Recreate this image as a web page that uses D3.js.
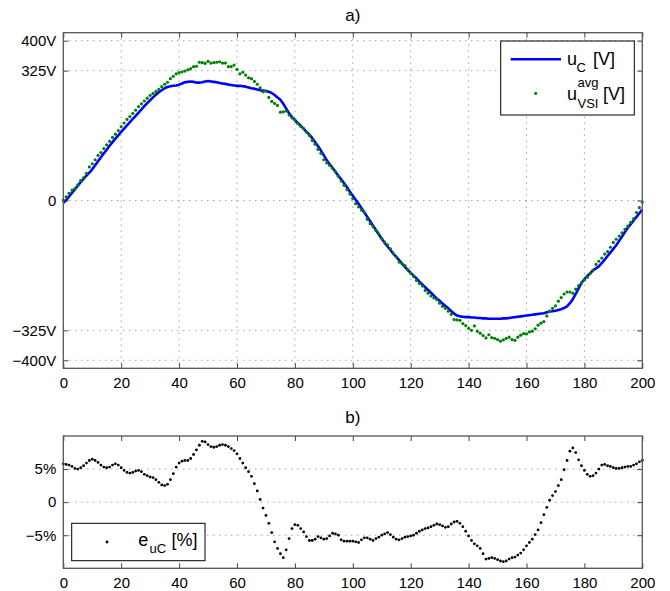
<!DOCTYPE html>
<html>
<head>
<meta charset="utf-8">
<script src="https://d3js.org/d3.v7.min.js"></script>
<style>
  body { margin: 0; background: #fff; }
  svg { font-family: "Liberation Sans", Arial, Helvetica, sans-serif; }
  .axis text { font-size: 15px; fill: #000; }
  .axis line { stroke: #444; }
  .grid line { stroke: #777; stroke-dasharray: 1,5; }
</style>
</head>
<body>
<div id="chart"></div>
<script>
// capacitor voltage u_C [V], one value per sample 0..200
var uC = [
  -6, 1, 10, 19, 28, 37, 46, 54, 62, 70,
  78, 88, 98, 108, 118, 127, 137, 146, 155, 163,
  172, 180, 188, 196, 204, 212, 220, 228, 236, 244,
  251, 258, 265, 271, 276, 281, 284, 286, 287, 288,
  290, 293, 296, 297, 298, 297, 295, 295, 296, 298,
  299, 298, 297, 296, 294, 293, 292, 290, 289, 288,
  287, 287, 286, 285, 283, 281, 280, 278, 276, 275,
  274, 272, 269, 264, 258, 252, 242, 230, 218, 209,
  201, 194, 187, 180, 172, 165, 156, 146, 136, 125,
  113, 101, 91, 82, 72, 62, 53, 43, 33, 22,
  12, 2, -8, -19, -30, -41, -52, -63, -74, -85,
  -96, -106, -115, -124, -133, -141, -149, -158, -166, -174,
  -181, -188, -195, -203, -210, -217, -224, -231, -238, -245,
  -251, -258, -264, -270, -277, -283, -288, -290, -291, -292,
  -292, -293, -293, -294, -294, -295, -295, -296, -296, -296,
  -296, -296, -295, -295, -294, -293, -292, -291, -290, -289,
  -288, -287, -286, -285, -284, -283, -282, -280, -278, -277,
  -276, -274, -272, -269, -265, -257, -247, -234, -220, -206,
  -197, -189, -182, -175, -170, -165, -157, -148, -139, -130,
  -121, -112, -101, -90, -79, -68, -59, -50, -41, -32,
  -23
];

// averaged inverter voltage u_VSI^avg [V]
var uVSI = [
  1, 9, 18, 26, 30, 39, 50, 57, 68, 84,
  92, 102, 113, 120, 130, 139, 148, 158, 166, 175,
  185, 194, 203, 210, 218, 226, 235, 242, 249, 256,
  263, 268, 273, 278, 285, 291, 296, 305, 311, 317,
  320, 322, 324, 327, 330, 335, 336, 346, 345, 343,
  348, 344, 345, 346, 347, 344, 344, 335, 335, 339,
  328, 317, 321, 314, 307, 305, 298, 291, 282, 272,
  274, 258, 248, 243, 238, 221, 222, 224, 214, 207,
  202, 193, 186, 180, 171, 163, 150, 141, 128, 118,
  102, 94, 88, 81, 72, 61, 49, 38, 27, 16,
  5, -8, -16, -24, -30, -47, -58, -65, -75, -84,
  -95, -104, -111, -121, -133, -141, -154, -158, -163, -173,
  -182, -190, -200, -208, -214, -225, -232, -239, -244, -248,
  -257, -265, -270, -277, -285, -298, -299, -300, -308, -313,
  -320, -325, -314, -327, -332, -338, -344, -336, -343, -345,
  -348, -352, -349, -345, -342, -348, -350, -342, -337, -333,
  -334, -329, -327, -321, -312, -307, -303, -289, -277, -270,
  -264, -252, -243, -234, -229, -229, -232, -222, -213, -206,
  -199, -192, -183, -174, -160, -152, -144, -134, -128, -117,
  -105, -97, -89, -81, -72, -64, -55, -45, -30, -18,
  -4
];

// error e_uC [%]
var euC = [
  5.8, 5.7, 5.6, 5.4, 5.1, 5.0, 5.2, 5.5, 5.9, 6.3,
  6.5, 6.3, 6.0, 5.6, 5.3, 5.2, 5.3, 5.6, 5.8, 5.6,
  5.2, 4.8, 4.5, 4.4, 4.5, 4.7, 4.8, 4.6, 4.2, 4.0,
  3.8, 3.7, 3.4, 3.0, 2.6, 2.5, 2.7, 3.4, 4.3, 5.3,
  5.9, 6.2, 6.3, 6.3, 6.6, 7.2, 7.9, 8.6, 9.2, 9.1,
  8.7, 8.4, 8.3, 8.4, 8.6, 8.7, 8.6, 8.4, 8.1, 7.8,
  7.3, 6.6, 5.9, 5.2, 4.6, 3.9, 2.8, 1.7, 0.4, -0.9,
  -2.0, -3.2, -4.6, -6.0, -7.0, -7.8, -8.4, -7.2, -5.5, -4.0,
  -3.4, -3.5, -4.0, -4.5, -5.2, -5.8, -5.8, -5.6, -5.2, -5.4,
  -5.6, -5.5, -5.1, -4.7, -4.8, -5.0, -5.7, -5.9, -5.9, -5.9,
  -5.9, -6.0, -6.1, -5.7, -5.4, -5.4, -5.6, -5.8, -5.5, -5.3,
  -5.0, -4.8, -4.6, -4.9, -5.3, -5.6, -5.7, -5.5, -5.3, -5.2,
  -5.1, -5.0, -4.7, -4.4, -4.2, -4.0, -3.9, -3.7, -3.5, -3.3,
  -3.4, -3.6, -3.8, -3.7, -3.3, -3.0, -2.9, -3.2, -3.7, -4.4,
  -5.1, -5.8, -6.3, -6.6, -7.0, -7.8, -8.6, -8.5, -8.4, -8.5,
  -8.7, -8.9, -9.0, -8.9, -8.6, -8.4, -8.3, -8.0, -7.7, -7.2,
  -6.6, -6.1, -5.6, -4.9, -4.2, -3.1, -1.9, -0.8, 0.3, 1.0,
  1.6, 2.5, 3.4, 4.9, 6.3, 7.7, 8.2, 7.5, 6.4, 5.5,
  4.8, 4.2, 3.9, 4.0, 4.4, 5.0, 5.6, 5.7, 5.5, 5.4,
  5.2, 5.1, 5.1, 5.2, 5.3, 5.4, 5.4, 5.6, 5.8, 6.1,
  6.3
];

var xTicks = [0, 20, 40, 60, 80, 100, 120, 140, 160, 180, 200];
var vTicks = [-400, -325, 0, 325, 400];
var vTickLabels = ["\u2212400V", "\u2212325V", "0", "325V", "400V"];
var eTicks = [-5, 0, 5];
var eTickLabels = ["\u22125%", "0", "5%"];

var W = 670, H = 591;
var svg = d3.select("#chart").append("svg")
  .attr("width", W).attr("height", H);

var x = d3.scaleLinear().domain([0, 200]).range([63.3, 642.3]);
var yA = d3.scaleLinear().domain([-420, 420]).range([368.3, 32.7]);
var yB = d3.scaleLinear().domain([-10, 10]).range([568.3, 436]);

function frame(y, yt, ylabels, vgrid) {
  var top = y.range()[1], bot = y.range()[0];
  var g = svg.append("g");

  // grid
  var grid = g.append("g").attr("class", "grid");
  if (vgrid) {
    grid.selectAll(".vg").data(xTicks.slice(1, -1)).enter().append("line")
      .attr("x1", d => x(d)).attr("x2", d => x(d))
      .attr("y1", top).attr("y2", bot);
  }
  grid.selectAll(".hg").data(yt).enter().append("line")
    .attr("x1", x(0)).attr("x2", x(200))
    .attr("y1", d => y(d)).attr("y2", d => y(d));

  // axes with inward ticks
  g.append("g").attr("class", "axis").attr("transform", "translate(0," + bot + ")")
    .call(d3.axisBottom(x).tickValues(xTicks).tickSizeInner(-5).tickSizeOuter(0).tickPadding(9));
  g.append("g").attr("class", "axis").attr("transform", "translate(0," + top + ")")
    .call(d3.axisTop(x).tickValues(xTicks).tickSizeInner(-5).tickSizeOuter(0).tickFormat(""));
  g.append("g").attr("class", "axis").attr("transform", "translate(" + x(0) + ",0)")
    .call(d3.axisLeft(y).tickValues(yt).tickSizeInner(-5).tickSizeOuter(0).tickPadding(7)
      .tickFormat((d, i) => ylabels[i]));
  g.append("g").attr("class", "axis").attr("transform", "translate(" + x(200) + ",0)")
    .call(d3.axisRight(y).tickValues(yt).tickSizeInner(-5).tickSizeOuter(0).tickFormat(""));
  g.selectAll(".axis .domain").remove();

  return g;
}

function box(y) {
  svg.append("rect")
    .attr("x", x(0)).attr("y", y.range()[1])
    .attr("width", x(200) - x(0)).attr("height", y.range()[0] - y.range()[1])
    .attr("fill", "none").attr("stroke", "#555").attr("stroke-width", 1.3);
}

// ---- plot a)
frame(yA, vTicks, vTickLabels, true);

svg.append("path")
  .datum(uC)
  .attr("fill", "none").attr("stroke", "#0000ff").attr("stroke-width", 2.6)
  .attr("stroke-linejoin", "round")
  .attr("d", d3.line().x((d, i) => x(i)).y(d => yA(d)));

svg.append("g").selectAll("circle").data(uVSI).enter().append("circle")
  .attr("cx", (d, i) => x(i)).attr("cy", d => yA(d)).attr("r", 1.6)
  .attr("fill", "#008000");

box(yA);

svg.append("text").attr("x", 352.8).attr("y", 21).attr("text-anchor", "middle")
  .attr("font-size", 17).text("a)");

// legend a)
var la = svg.append("g");
la.append("rect").attr("x", 500.7).attr("y", 41).attr("width", 133.6).attr("height", 74)
  .attr("fill", "#fff").attr("stroke", "#000").attr("stroke-width", 1);
la.append("line").attr("x1", 510.7).attr("x2", 561).attr("y1", 59.3).attr("y2", 59.3)
  .attr("stroke", "#0000ff").attr("stroke-width", 2.6);
la.append("text").attr("x", 567).attr("y", 64.5).attr("font-size", 18).text("u");
la.append("text").attr("x", 576.5).attr("y", 71.5).attr("font-size", 13).text("C");
la.append("text").attr("x", 593).attr("y", 64.5).attr("font-size", 18).text("[V]");
la.append("circle").attr("cx", 535.7).attr("cy", 93.3).attr("r", 1.6).attr("fill", "#008000");
la.append("text").attr("x", 567).attr("y", 99.5).attr("font-size", 18).text("u");
la.append("text").attr("x", 577.5).attr("y", 86.5).attr("font-size", 13).text("avg");
la.append("text").attr("x", 577.5).attr("y", 107.5).attr("font-size", 13).text("VSI");
la.append("text").attr("x", 603).attr("y", 99.5).attr("font-size", 18).text("[V]");

// ---- plot b)
frame(yB, eTicks, eTickLabels, false);

svg.append("g").selectAll("circle").data(euC).enter().append("circle")
  .attr("cx", (d, i) => x(i)).attr("cy", d => yB(d)).attr("r", 1.4)
  .attr("fill", "#000");

box(yB);

svg.append("text").attr("x", 352.8).attr("y", 423).attr("text-anchor", "middle")
  .attr("font-size", 17).text("b)");

// legend b)
var lb = svg.append("g");
lb.append("rect").attr("x", 71.7).attr("y", 523.3).attr("width", 133.3).attr("height", 37.4)
  .attr("fill", "#fff").attr("stroke", "#000").attr("stroke-width", 1);
lb.append("circle").attr("cx", 107).attr("cy", 542).attr("r", 1.4).attr("fill", "#000");
lb.append("text").attr("x", 138.3).attr("y", 546).attr("font-size", 18).text("e");
lb.append("text").attr("x", 149.5).attr("y", 553).attr("font-size", 13).text("uC");
lb.append("text").attr("x", 171.5).attr("y", 546).attr("font-size", 18).text("[%]");
</script>
</body>
</html>
